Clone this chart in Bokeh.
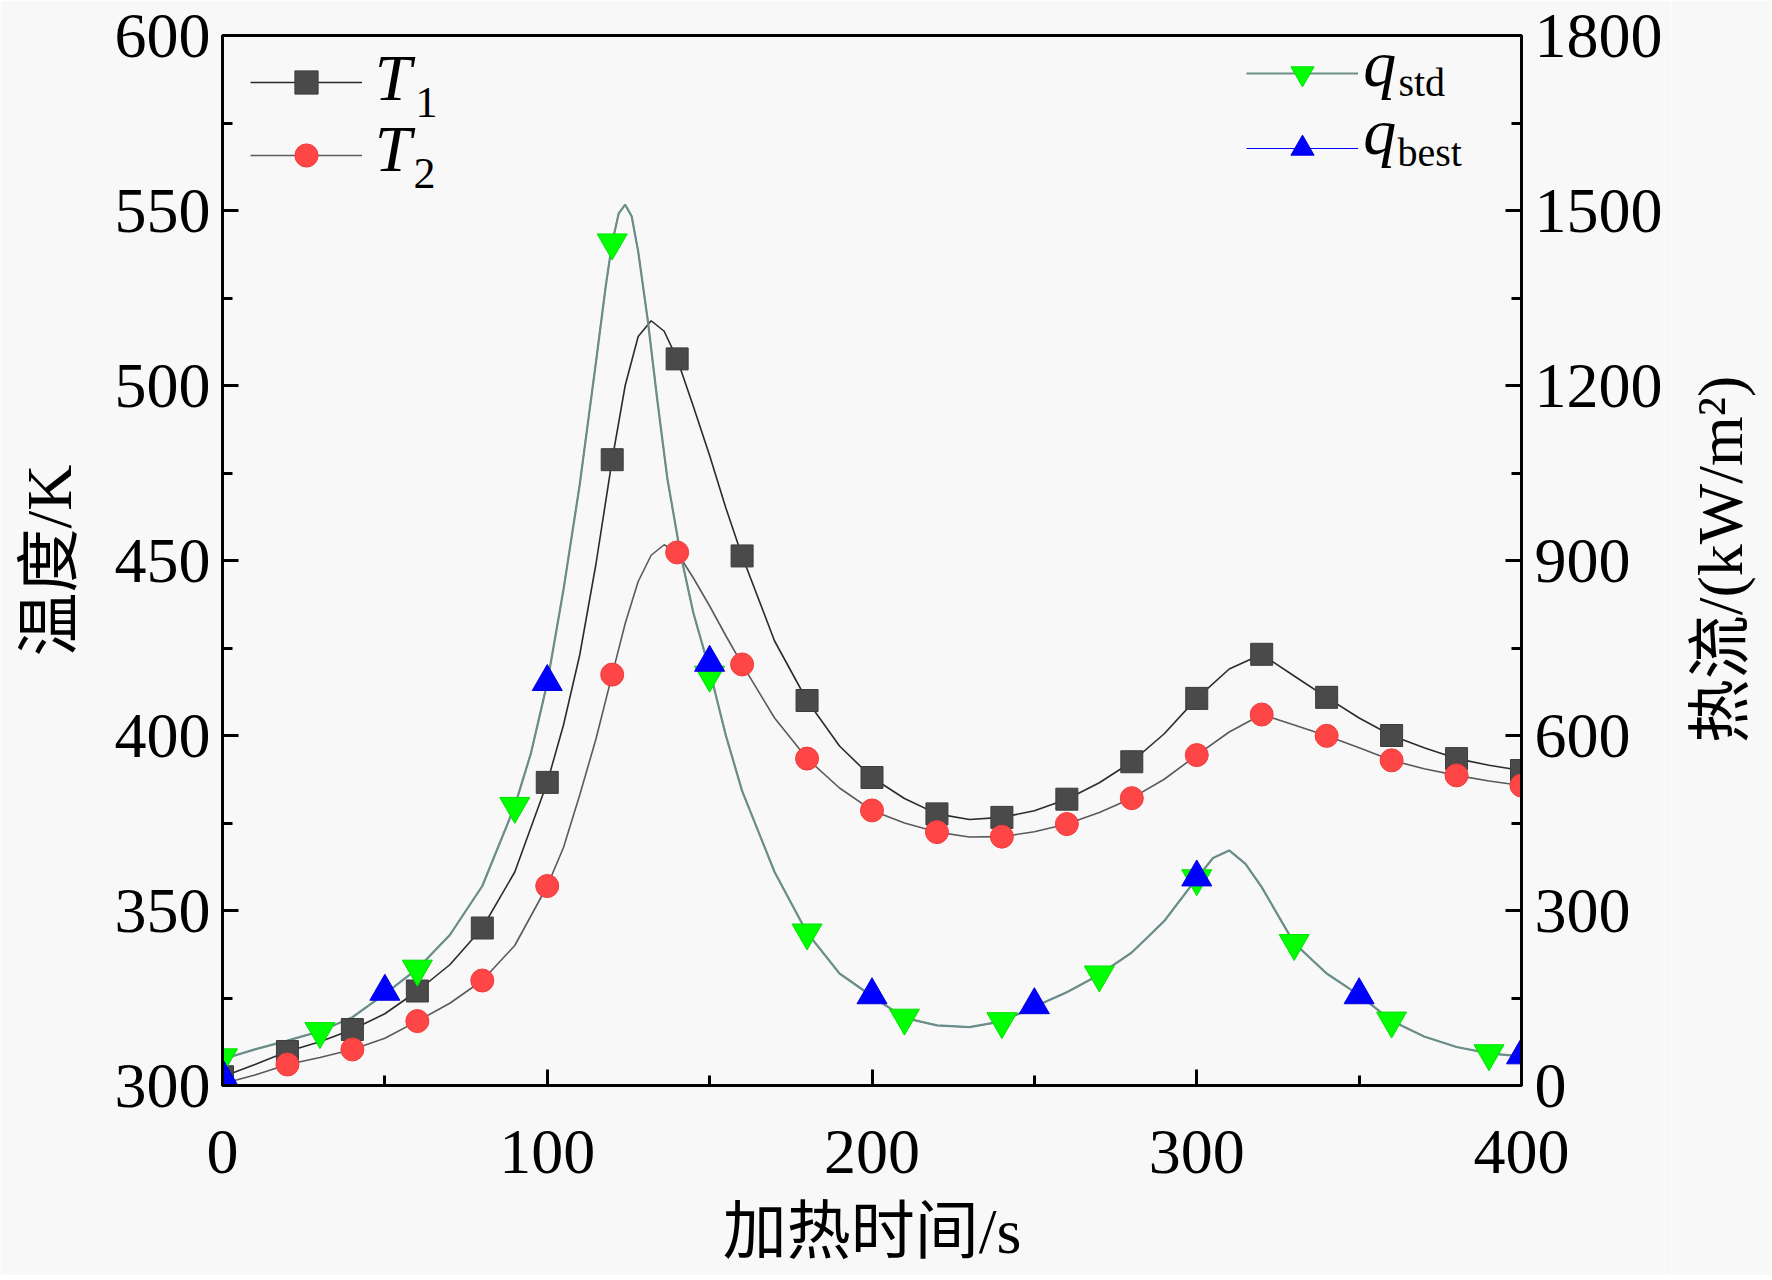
import math
from bokeh.plotting import figure
from bokeh.layouts import row
from bokeh.models import Range1d, LinearAxis, Legend, LegendItem, Label, FixedTicker
from bokeh.embed import file_html
from bokeh.resources import INLINE

# ---------------- data ----------------
# marker samples
time_T = [0, 20, 40, 60, 80, 100, 120, 140, 160, 180, 200, 220, 240, 260, 280, 300, 320, 340, 360, 380, 400]
T1 = [302.5, 309.7, 316.0, 327.0, 345.0, 386.6, 478.8, 507.6, 451.3, 410.0, 388.0, 377.6, 376.6, 381.8,
      392.5, 410.6, 423.2, 410.9, 400.0, 393.4, 390.0]
T2 = [300.5, 306.0, 310.3, 318.4, 330.0, 357.0, 417.4, 452.3, 420.3, 393.4, 378.6, 372.4, 371.1, 374.7,
      382.1, 394.4, 406.0, 399.9, 392.9, 388.6, 385.7]

time_std = [0, 30, 60, 90, 120, 150, 180, 210, 240, 270, 300, 330, 360, 390]
q_std = [48, 93, 200, 479, 1445, 704, 262, 116, 110, 190, 355, 244, 111, 55]

time_best = [0, 50, 100, 150, 200, 250, 300, 350, 400]
q_best = [16, 161, 692, 725, 155, 138, 357, 155, 52]

# smooth curves
T_curve_x = [0, 10, 20, 30, 40, 50, 60, 70, 80, 90, 100, 105, 110, 115, 120, 124, 128, 132, 136, 140,
             145, 150, 155, 160, 170, 180, 190, 200, 210, 220, 230, 240, 250, 260, 270, 280, 290, 300,
             310, 320, 330, 340, 350, 360, 370, 380, 390, 400]
T1_curve = [302.5, 306.0, 309.7, 312.5, 316.0, 320.5, 327.0, 334.5, 345.0, 361.0, 386.6, 403.0, 423.0,
            449.0, 478.8, 500.0, 514.0, 518.5, 515.5, 507.6, 494.0, 480.0, 465.0, 451.3, 427.0, 410.0,
            397.0, 388.0, 382.0, 377.6, 376.0, 376.6, 378.5, 381.8, 386.5, 392.5, 400.5, 410.6, 419.0,
            423.2, 417.0, 410.9, 405.0, 400.0, 396.5, 393.4, 391.5, 390.0]
T2_curve = [300.5, 303.0, 306.0, 308.0, 310.3, 313.5, 318.4, 323.5, 330.0, 340.0, 357.0, 368.0, 383.0,
            399.0, 417.4, 432.0, 444.0, 451.5, 454.5, 452.3, 445.0, 437.0, 428.5, 420.3, 405.0, 393.4,
            385.0, 378.6, 375.0, 372.4, 371.0, 371.1, 372.5, 374.7, 378.0, 382.1, 387.5, 394.4, 401.0,
            406.0, 403.0, 399.9, 396.5, 392.9, 390.5, 388.6, 387.0, 385.7]

q_curve_x = [0, 10, 20, 30, 40, 50, 60, 70, 80, 90, 95, 100, 105, 110, 115, 118, 120, 122, 124, 126, 128,
             131, 134, 137, 141, 145, 150, 155, 160, 170, 180, 190, 200, 210, 220, 230, 240, 250, 260,
             270, 280, 290, 300, 305, 310, 315, 320, 330, 340, 350, 360, 370, 380, 390, 400]
q_curve = [45, 62, 77, 93, 117, 157, 200, 258, 342, 479, 570, 690, 850, 1030, 1240, 1370, 1445, 1495,
           1510, 1490, 1430, 1310, 1170, 1040, 912, 810, 712, 600, 505, 366, 262, 192, 153, 116, 103,
           100, 110, 135, 160, 190, 228, 282, 355, 390, 403, 380, 340, 244, 192, 155, 111, 84, 66, 55, 50]

x_ticks = [0, 100, 200, 300, 400]
x_minor = [50, 150, 250, 350]
yl_ticks = [300, 350, 400, 450, 500, 550, 600]
yl_minor = [325, 375, 425, 475, 525, 575]
yr_ticks = [0, 300, 600, 900, 1200, 1500, 1800]
yr_minor = [150, 450, 750, 1050, 1350, 1650]

# ---------------- figure ----------------
BG = "#f8f8f8"
SERIF = "Liberation Serif"
MIXED = "Liberation Serif, Noto Sans CJK SC"

p = figure(frame_width=1299, frame_height=1050,
           x_range=Range1d(0, 400), y_range=Range1d(300, 600),
           output_backend="svg", toolbar_location=None,
           min_border_left=222, min_border_right=150, min_border_top=35, min_border_bottom=190,
           background_fill_color=BG, border_fill_color=BG)
p.extra_y_ranges = {"q": Range1d(0, 1800)}
p.grid.visible = False
p.outline_line_color = "black"
p.outline_line_width = 3

right = LinearAxis(y_range_name="q")
p.add_layout(right, "right")


def style(ax, ticks, minor, standoff, label, label_standoff):
    ax.ticker = FixedTicker(ticks=ticks, minor_ticks=minor)
    ax.major_tick_in = 16
    ax.major_tick_out = 0
    ax.minor_tick_in = 10
    ax.minor_tick_out = 0
    ax.major_tick_line_width = 3
    ax.minor_tick_line_width = 3
    ax.axis_line_width = 3
    ax.major_tick_line_color = "black"
    ax.minor_tick_line_color = "black"
    ax.axis_line_color = "black"
    ax.major_label_text_font = SERIF
    ax.major_label_text_font_size = "64px"
    ax.major_label_text_color = "black"
    ax.major_label_standoff = standoff
    if label:
        ax.axis_label = label
    ax.axis_label_text_font = MIXED
    ax.axis_label_text_font_size = "64px"
    ax.axis_label_text_font_style = "normal"
    ax.axis_label_text_color = "black"
    ax.axis_label_standoff = label_standoff


style(p.xaxis[0], x_ticks, x_minor, 45, "加热时间/s", 20)
style(p.yaxis[0], yl_ticks, yl_minor, 12, "温度/K", 27)
style(right, yr_ticks, yr_minor, 13, None, 0)

# ---------------- glyphs ----------------
l1 = p.line(T_curve_x, T1_curve, line_color="#2b2b2b", line_width=1.6)
l2 = p.line(T_curve_x, T2_curve, line_color="#5a5a5a", line_width=1.6)
l4 = p.line(q_curve_x, q_curve, y_range_name="q", line_color="#0000ff", line_width=1.2)
l3 = p.line(q_curve_x, q_curve, y_range_name="q", line_color="#6b8f86", line_width=2.2)

s1 = p.scatter(time_T, T1, marker="square", size=22, fill_color="#4a4a4a", line_color="#3c3c3c", line_width=1)
s2 = p.scatter(time_T, T2, marker="circle", size=23, fill_color="#ff4646", line_color="#f03c3c", line_width=1)
s3 = p.scatter(time_std, q_std, marker="inverted_triangle", size=30, fill_color="#00ff00",
               line_color="#00e000", y_range_name="q")
s4 = p.scatter(time_best, q_best, marker="triangle", size=30, fill_color="#0000ff",
               line_color="#0000e0", y_range_name="q")

# ---------------- legends ----------------
common = dict(glyph_width=112, glyph_height=58, padding=0, margin=0, label_width=0, label_height=0,
              label_standoff=0, label_text_font_size="1px", background_fill_alpha=0, border_line_alpha=0)
leg1 = Legend(items=[LegendItem(label=" ", renderers=[l1, s1]),
                     LegendItem(label=" ", renderers=[l2, s2])],
              location=(28, 901), spacing=15, **common)
leg2 = Legend(items=[LegendItem(label=" ", renderers=[l3, s3]),
                     LegendItem(label=" ", renderers=[l4, s4])],
              location=(1024, 907.6), spacing=17, **common)
p.add_layout(leg1)
p.add_layout(leg2)


def lab(x, y, text, size, italic=False):
    p.add_layout(Label(x=x, y=y, text=text, text_font=SERIF,
                       text_font_style="italic" if italic else "normal",
                       text_font_size=size, text_baseline="alphabetic", text_color="black"))


lab(46.9, 588.1, "T", "66px", True)
lab(59.4, 580.9, "1", "44px")
lab(46.9, 567.8, "T", "66px", True)
lab(58.8, 560.6, "2", "44px")
lab(351.3, 592.0, "q", "66px", True)
lab(362.1, 586.6, "std", "40px")
lab(351.3, 572.5, "q", "66px", True)
lab(361.8, 566.6, "best", "40px")

# ---------------- right-hand axis title (reads bottom-to-top) ----------------
side = figure(frame_width=101, frame_height=1275, x_range=Range1d(0, 101), y_range=Range1d(0, 1275),
              output_backend="svg", toolbar_location=None, x_axis_location=None, y_axis_location=None,
              min_border=0, background_fill_color=BG, border_fill_color=BG, outline_line_color=None)
side.grid.visible = False
side.add_layout(Label(x=49, y=751, text="热流/(kW/m²)", angle=math.pi / 2,
                      text_font=MIXED, text_font_size="64px", text_align="center",
                      text_baseline="middle", text_color="black"))

layout = row(p, side, spacing=0)
open("out.html", "w").write(file_html(layout, INLINE))
